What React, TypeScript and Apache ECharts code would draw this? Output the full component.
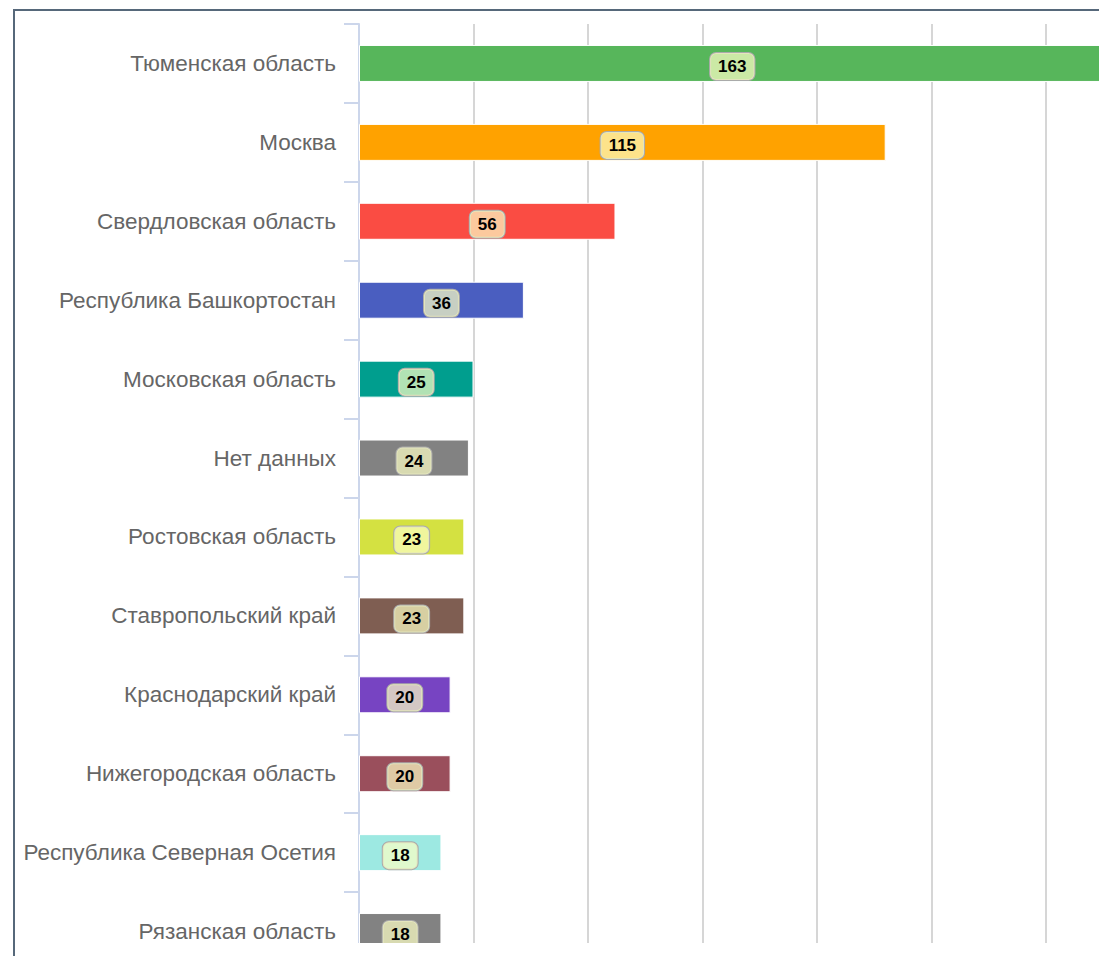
import React, { useEffect, useRef } from "react";
import * as echarts from "echarts";

const categories = [
  "Тюменская область",
  "Москва",
  "Свердловская область",
  "Республика Башкортостан",
  "Московская область",
  "Нет данных",
  "Ростовская область",
  "Ставропольский край",
  "Краснодарский край",
  "Нижегородская область",
  "Республика Северная Осетия",
  "Рязанская область",
];

const values = [163, 115, 56, 36, 25, 24, 23, 23, 20, 20, 18, 18];

const barColors = [
  "#57b65b",
  "#ffa200",
  "#fa4c43",
  "#4a5ec0",
  "#009e8e",
  "#828282",
  "#d4e141",
  "#7f5e52",
  "#7744c2",
  "#9a4f5c",
  "#9de9e2",
  "#828282",
];

const axisMin = 0;
const axisMax = 175;
const axisInterval = 25;

const FONT = "'Liberation Sans', Arial, sans-serif";

export default function App() {
  const ref = useRef<HTMLDivElement>(null);

  useEffect(() => {
    if (!ref.current) return;
    const chart = echarts.init(ref.current, null, { renderer: "svg" });
    chart.setOption({
      animation: false,
      backgroundColor: "#ffffff",
      grid: { left: 344, top: 13, width: 801.5, height: 947, containLabel: false },
      xAxis: {
        type: "value",
        min: axisMin,
        max: axisMax,
        interval: axisInterval,
        axisLine: { show: false },
        axisTick: { show: false },
        axisLabel: { show: false },
        splitLine: { show: true, lineStyle: { color: "#d6d6d6", width: 2 } },
      },
      yAxis: {
        type: "category",
        inverse: true,
        data: categories,
        axisLine: { show: true, lineStyle: { color: "#ccd6eb", width: 2 } },
        axisTick: { show: true, length: 15, lineStyle: { color: "#ccd6eb", width: 2 } },
        axisLabel: {
          color: "#666666",
          fontFamily: FONT,
          fontSize: 22.5,
          margin: 23,
          padding: [8, 0, 0, 0],
        },
        splitLine: { show: false },
      },
      series: [
        {
          type: "bar",
          barWidth: 37,
          data: values.map((v, i) => ({
            value: v,
            itemStyle: { color: barColors[i], borderColor: "#ffffff", borderWidth: 1 },
          })),
          label: {
            show: true,
            position: "inside",
            color: "#000000",
            fontFamily: FONT,
            fontSize: 17,
            fontWeight: "bold",
            backgroundColor: "rgba(252, 255, 197, 0.7)",
            borderColor: "#aaaaaa",
            borderWidth: 1,
            borderRadius: 6,
            padding: [6, 8, 4, 8],
            offset: [0, 3],
          },
        },
      ],
    });
    return () => chart.dispose();
  }, []);

  return (
    <div
      style={{
        position: "absolute",
        left: 0,
        top: 0,
        width: 1099,
        height: 956,
        overflow: "hidden",
        background: "#ffffff",
      }}
    >
      <div
        style={{
          position: "absolute",
          left: 13,
          top: 9,
          width: 2000,
          height: 2000,
          borderLeft: "2px solid #56687a",
          borderTop: "2px solid #56687a",
        }}
      />
      <div
        style={{
          position: "absolute",
          left: 15,
          top: 11,
          width: 1084,
          height: 932,
          overflow: "hidden",
        }}
      >
        <div ref={ref} style={{ width: 1200, height: 1010 }} />
      </div>
    </div>
  );
}
